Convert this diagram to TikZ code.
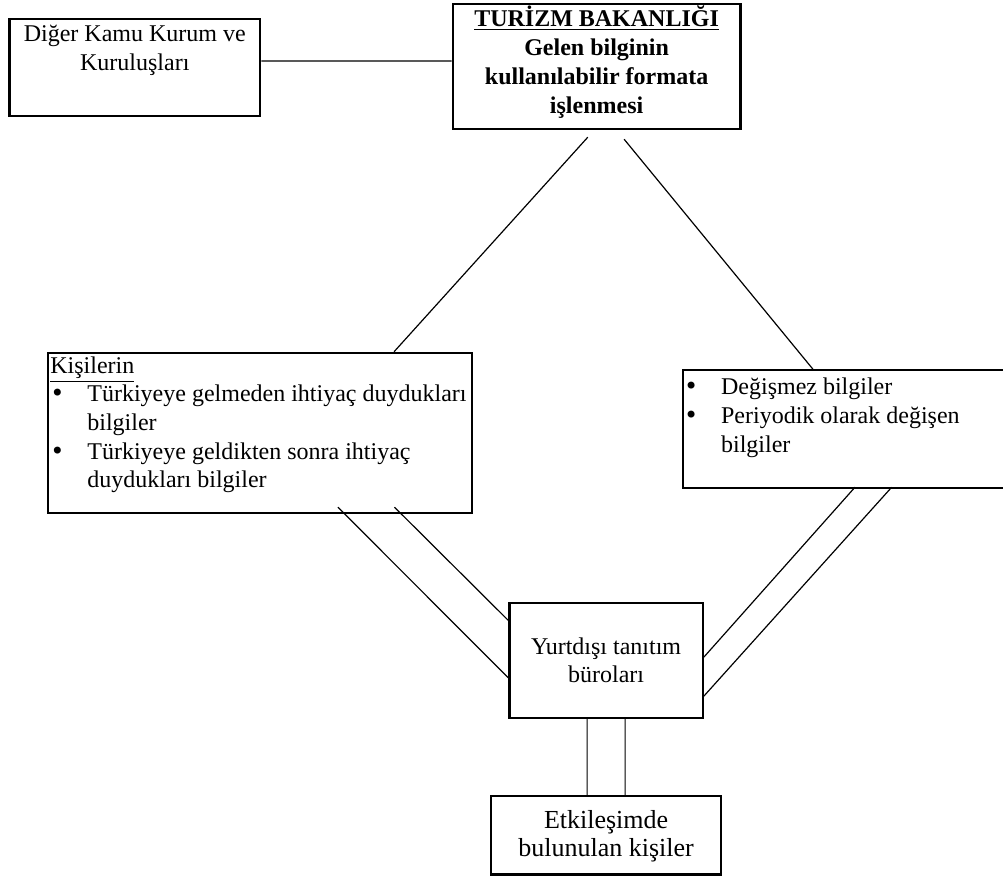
\documentclass[tikz,border=0pt]{standalone}
\usepackage{fontspec}
\setmainfont{Liberation Serif}
\newfontfamily\symfont{DejaVu Sans}
\usetikzlibrary{positioning, calc}

\newcommand{\bitem}[1]{\makebox[18.5pt][l]{{\symfont\fontsize{12}{12}\selectfont •}}#1}
\newcommand{\bcont}[1]{\hspace*{18.5pt}#1}

\begin{document}
\begin{tikzpicture}[x=0.5pt, y=-0.5pt,
      framebox/.style={draw, line width=1.1pt, inner sep=0pt, anchor=north west},
      boxtext/.style={inner sep=0pt, anchor=base, align=flush center,
                    font=\fontsize{12}{14.3}\selectfont},
      listtext/.style={inner sep=0pt, anchor=base west, align=flush left,
                    font=\fontsize{12}{14.3}\selectfont},
      link/.style={line width=0.6pt}
    ]
      \clip (0,0) rectangle (1003,877);

      % boxes
      \node[framebox, minimum width=125.4pt, minimum height=48.4pt] (kamu) at (8.3,18.3) {};
      \node[framebox, minimum width=143.8pt, minimum height=62.8pt] (bakanlik) at (451.7,2.7) {};
      \node[framebox, minimum width=212.2pt, minimum height=80pt] (kisiler) at (46.7,351.7) {};
      \node[framebox, minimum width=170pt, minimum height=58.7pt] (bilgiler) at (681.7,369.3) {};
      \node[framebox, minimum width=96.7pt, minimum height=57.5pt] (buro) at (508.3,601.7) {};
      \node[framebox, minimum width=115pt, minimum height=39.2pt] (etkilesim) at (490,795) {};

      % texts
      \node[boxtext, text width=125pt] (kamu-t) at ($(kamu.north)+(0,23.4)$)
        {Diğer Kamu Kurum ve\\Kuruluşları};
      \node[boxtext, text width=143pt, font=\fontsize{12}{14.5}\selectfont\bfseries] (bakanlik-t)
        at ($(bakanlik.north)+(0,24)$)
        {\underline{TURİZM BAKANLIĞI}\\Gelen bilginin\\kullanılabilir formata\\işlenmesi};
      \node[listtext, text width=212pt] (kisiler-t) at ($(kisiler.north west)+(3.3,21.6)$)
        {\underline{Kişilerin}\\
         \bitem{Türkiyeye gelmeden ihtiyaç duydukları}\\
         \bcont{bilgiler}\\
         \bitem{Türkiyeye geldikten sonra ihtiyaç}\\
         \bcont{duydukları bilgiler}};
      \node[listtext, text width=160pt] (bilgiler-t) at ($(bilgiler.north west)+(2,25.7)$)
        {\bitem{Değişmez bilgiler}\\
         \bitem{Periyodik olarak değişen}\\
         \bcont{bilgiler}};
      \node[boxtext, text width=96pt] (buro-t) at ($(buro.north)+(0,52.3)$)
        {Yurtdışı tanıtım\\büroları};
      \node[boxtext, text width=115pt, font=\fontsize{13}{14.2}\selectfont] (etkilesim-t)
        at ($(etkilesim.north)+(0,33.3)$)
        {Etkileşimde\\bulunulan kişiler};

      % connectors
      \draw[link] ($(kamu.east)+(0,-6.7)$) -- ($(bakanlik.west)+(0,-5.5)$);
      \draw[link] ($(bakanlik.south)+(-8.8,6.7)$) -- ($(kisiler.north)+(134.1,0)$);
      \draw[link] ($(bakanlik.south)+(27.5,8.7)$) -- ($(bilgiler.north west)+(131.3,0)$);

      \draw[link] ($(kisiler.south)+(77.9,-6.7)$) -- ($(buro.west)+(0,17.5)$);
      \draw[link] ($(kisiler.south)+(134.5,-6.7)$) -- ($(buro.west)+(0,-39.9)$);
      \draw[link] ($(bilgiler.south west)+(173.3,-1.7)$) -- ($(buro.east)+(0,-3.2)$);
      \draw[link] ($(bilgiler.south west)+(210,-1.7)$) -- ($(buro.east)+(0,35.8)$);

      \draw[link] ($(buro.south)+(-19,0)$) -- ($(etkilesim.north)+(-19,0)$);
      \draw[link] ($(buro.south)+(19,0)$) -- ($(etkilesim.north)+(19,0)$);
    \end{tikzpicture}
\end{document}
